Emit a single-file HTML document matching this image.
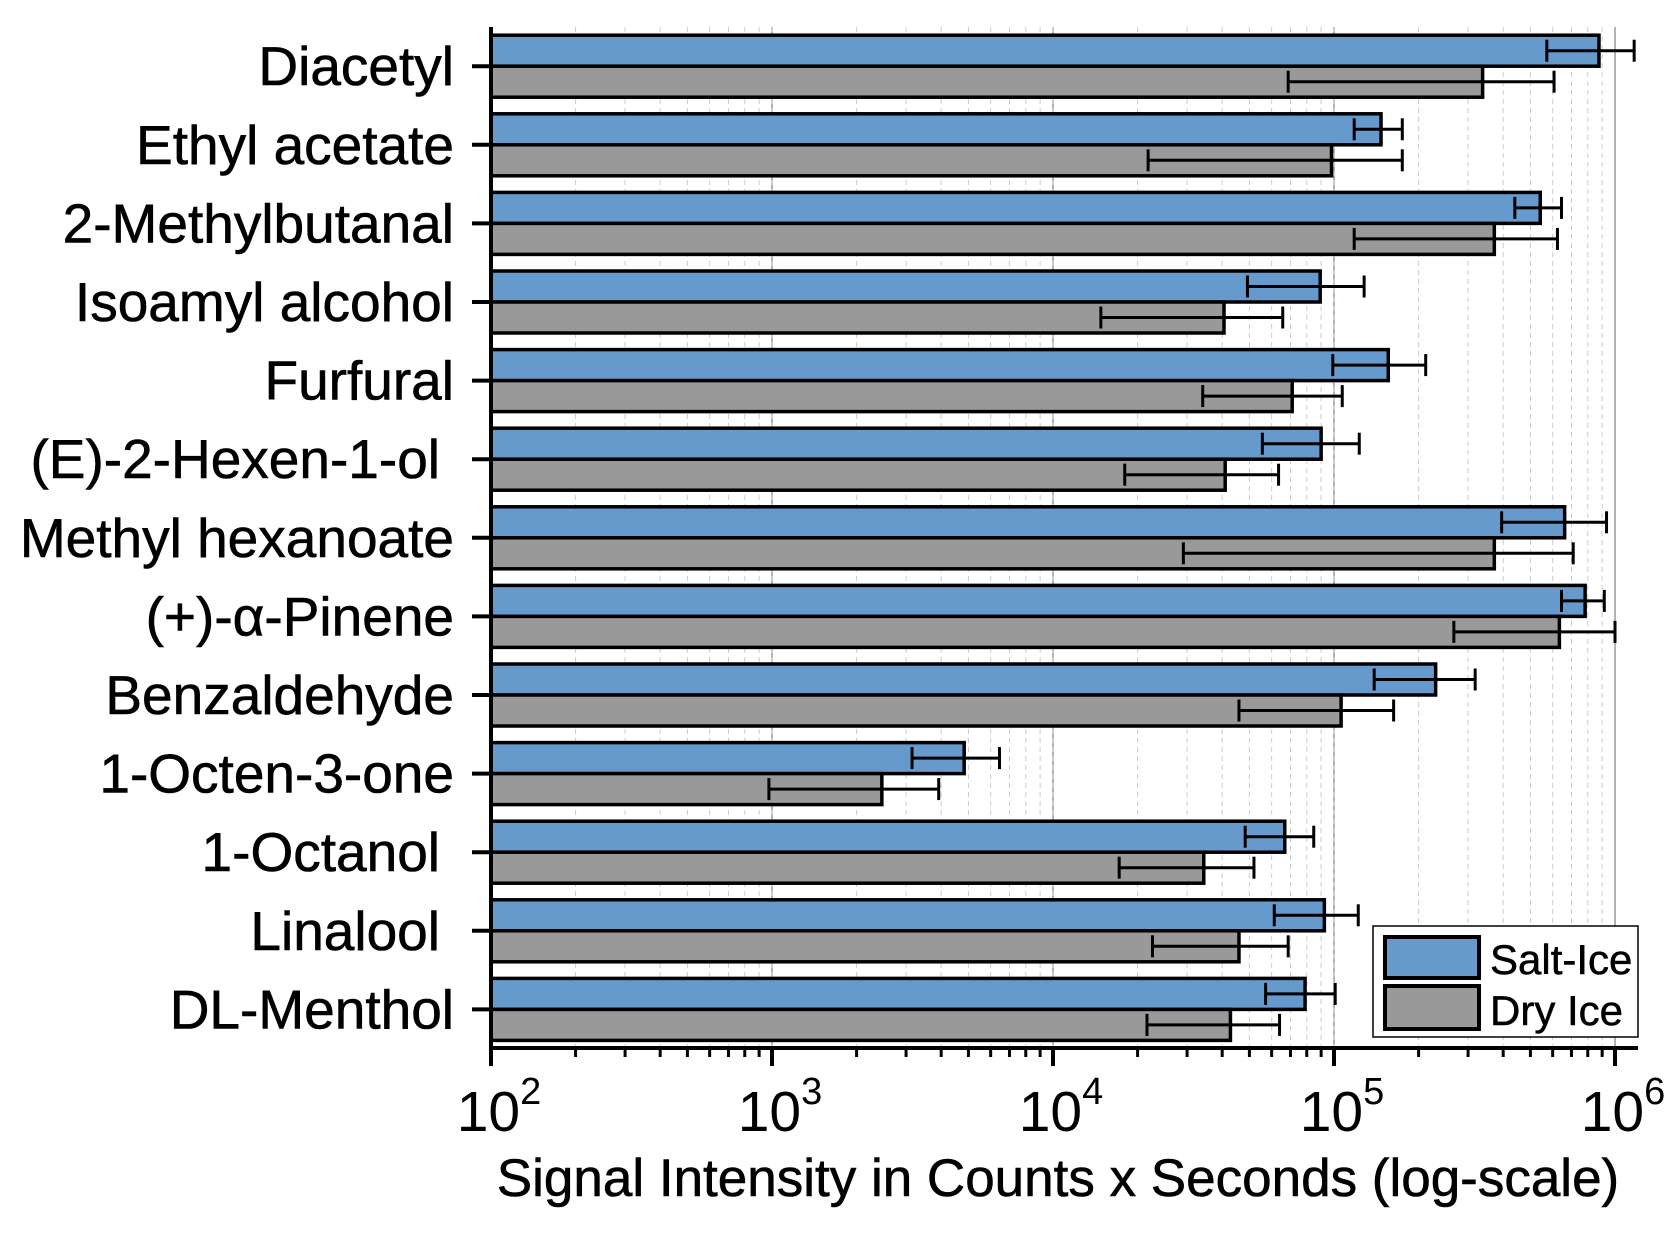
<!DOCTYPE html>
<html><head><meta charset="utf-8"><style>
body{margin:0;background:#fff}
svg{display:block;font-family:"Liberation Sans",Arial,sans-serif}
</style></head><body>
<svg id="chart" width="1675" height="1233" viewBox="0 0 1675 1233">
<g id="grid"></g>
<g id="bars"></g>
<g id="axes"></g>
<text x="1058" y="1196" font-size="53" text-anchor="middle" stroke="#000" stroke-width="0.6">Signal Intensity in Counts x Seconds (log-scale)</text>
<g>
<rect x="1373" y="926" width="265" height="111" fill="#fff" stroke="#000" stroke-width="1.5"/>
<rect x="1385" y="937" width="94" height="41" fill="#6699cc" stroke="#000" stroke-width="4"/>
<text x="1490" y="974" font-size="42" stroke="#000" stroke-width="0.5">Salt-Ice</text>
<rect x="1385" y="986" width="94" height="43" fill="#999999" stroke="#000" stroke-width="4"/>
<text x="1490" y="1025" font-size="42" stroke="#000" stroke-width="0.5">Dry Ice</text>
</g>
</svg>
<script>
const categories=["Diacetyl","Ethyl acetate","2-Methylbutanal","Isoamyl alcohol","Furfural","(E)-2-Hexen-1-ol\u00a0","Methyl hexanoate","(+)-\u03b1-Pinene","Benzaldehyde","1-Octen-3-one","1-Octanol\u00a0","Linalool\u00a0","DL-Menthol"];
const saltIce=[8.77e5,1.47e5,5.42e5,8.93e4,1.56e5,9.0e4,6.62e5,7.83e5,2.3e5,4.83e3,6.68e4,9.24e4,7.89e4];
const saltLow=[5.72e5,1.18e5,4.4e5,4.92e4,9.9e4,5.56e4,3.95e5,6.45e5,1.39e5,3.15e3,4.83e4,6.13e4,5.71e4];
const saltHigh=[1.17e6,1.75e5,6.45e5,1.28e5,2.12e5,1.23e5,9.33e5,9.16e5,3.18e5,6.45e3,8.47e4,1.22e5,1.01e5];
const dryIce=[3.38e5,9.8e4,3.72e5,4.06e4,7.1e4,4.1e4,3.72e5,6.34e5,1.06e5,2.46e3,3.44e4,4.59e4,4.28e4];
const dryLow=[6.87e4,2.18e4,1.18e5,1.48e4,3.41e4,1.8e4,2.91e4,2.67e5,4.59e4,975,1.72e4,2.26e4,2.16e4];
const dryHigh=[6.07e5,1.75e5,6.24e5,6.57e4,1.07e5,6.35e4,7.1e5,1e6,1.63e5,3.92e3,5.19e4,6.87e4,6.4e4];
const decades=[2,3,4,5,6];
const NS="http://www.w3.org/2000/svg";
const X0=491,DEC=281,TOP=27,AXY=1048,ROW0=66.2,PITCH=78.6,BH=31;
const xs=v=>X0+(Math.log10(v)-2)*DEC;
const yc=i=>ROW0+i*PITCH;
function mk(p,t,a){const e=document.createElementNS(NS,t);for(const k in a)e.setAttribute(k,a[k]);p.appendChild(e);return e;}
const grid=document.getElementById('grid'),bars=document.getElementById('bars'),axes=document.getElementById('axes');
for(let d=2;d<6;d++){for(let m=1;m<=10;m++){const x=xs(m*Math.pow(10,d));if(m===1&&d===2)continue;
const g=mk(grid,'line',{x1:x,x2:x,y1:TOP,y2:AXY,stroke:m===10?'#999':'#ccc','stroke-width':m===10?1.5:1,'stroke-dasharray':m===10?'':'5,4'});

}}
categories.forEach((c,i)=>{
 const y=yc(i);
 const b1=mk(bars,'rect',{x:X0,y:y-BH,width:xs(saltIce[i])-X0,height:BH,fill:'#6699cc',stroke:'#000','stroke-width':3.5});
 
 
 const b2=mk(bars,'rect',{x:X0,y:y,width:xs(dryIce[i])-X0,height:BH,fill:'#999999',stroke:'#000','stroke-width':3.5});
 
 
 [[saltLow[i],saltHigh[i],y-BH/2],[dryLow[i],dryHigh[i],y+BH/2]].forEach(([lo,hi,yy])=>{
  const g=mk(bars,'g',{stroke:'#000','stroke-width':3});
  
  
  mk(g,'line',{x1:xs(lo),x2:xs(hi),y1:yy,y2:yy});
  mk(g,'line',{x1:xs(lo),x2:xs(lo),y1:yy-11,y2:yy+11});
  mk(g,'line',{x1:xs(hi),x2:xs(hi),y1:yy-11,y2:yy+11});
 });
 const t=mk(axes,'line',{x1:472,x2:X0,y1:y,y2:y,stroke:'#000','stroke-width':4});
 
 
 const l=mk(axes,'text',{x:454,y:y+19,'font-size':55,'text-anchor':'end',stroke:'#000','stroke-width':0.6});
 l.textContent=c.replace(/\u00a0$/,'');
 if(/\u00a0$/.test(c))l.setAttribute('x',440);
 
 
});
mk(axes,'line',{x1:X0,x2:X0,y1:TOP,y2:AXY+2,stroke:'#000','stroke-width':4});
mk(axes,'line',{x1:X0-2,x2:1638,y1:AXY,y2:AXY,stroke:'#000','stroke-width':4});
for(let d=2;d<6;d++)for(let m=2;m<=9;m++){const x=xs(m*Math.pow(10,d));mk(axes,'line',{x1:x,x2:x,y1:AXY,y2:AXY+9,stroke:'#000','stroke-width':3});}
decades.forEach(d=>{const x=xs(Math.pow(10,d));
 mk(axes,'line',{x1:x,x2:x,y1:AXY,y2:AXY+18,stroke:'#000','stroke-width':4});
 const t=mk(axes,'text',{x:x+8,y:1131,'font-size':57,'text-anchor':'middle'});
 t.innerHTML='10<tspan dy="-27" font-size="38">'+d+'</tspan>';
 
 
});
</script>
</body></html>
